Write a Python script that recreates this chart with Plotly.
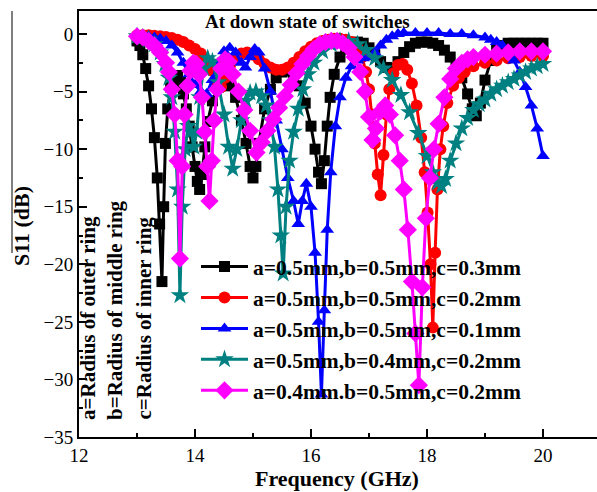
import plotly.graph_objects as go

# ---- data (frequency GHz, S11 dB) ----
black_pts = [(13.00,-0.6),(13.05,-1.0),(13.10,-1.8),(13.15,-3.0),(13.20,-4.5),(13.25,-6.5),(13.30,-9.0),(13.35,-12.5),(13.39,-16.5),(13.43,-21.5),(13.46,-15.0),(13.49,-9.5),(13.53,-6.5),(13.58,-4.6),(13.64,-3.7),(13.70,-3.6),(13.75,-4.2),(13.80,-5.2),(13.85,-6.5),(13.90,-8.0),(13.95,-9.8),(14.00,-11.5),(14.04,-12.8),(14.08,-13.5),(14.12,-12.2),(14.17,-9.8),(14.22,-7.6),(14.30,-5.8),(14.40,-4.6),(14.50,-4.2),(14.60,-4.5),(14.70,-5.5),(14.80,-7.5),(14.88,-9.5),(14.95,-11.5),(15.00,-12.5),(15.05,-11.5),(15.10,-9.5),(15.20,-6.5),(15.30,-4.8),(15.40,-3.8),(15.50,-3.3),(15.60,-3.2),(15.70,-3.6),(15.80,-4.5),(15.90,-6.0),(16.00,-8.0),(16.07,-10.0),(16.13,-12.0),(16.18,-13.0),(16.23,-11.0),(16.28,-8.0),(16.33,-5.5),(16.40,-3.5),(16.50,-2.0),(16.60,-1.3),(16.70,-0.9),(16.80,-0.7),(16.90,-0.8),(17.00,-1.2),(17.10,-1.8),(17.20,-2.4),(17.30,-2.9),(17.40,-3.0),(17.50,-2.4),(17.60,-1.6),(17.70,-1.1),(17.80,-0.8),(17.90,-0.7),(18.00,-0.7),(18.10,-0.8),(18.20,-1.0),(18.30,-1.4),(18.40,-2.0),(18.50,-2.8),(18.60,-3.8),(18.70,-5.2),(18.78,-6.5),(18.85,-7.1),(18.92,-6.0),(19.00,-4.0),(19.10,-2.3),(19.20,-1.4),(19.30,-1.0),(19.40,-0.8),(19.50,-0.8),(19.60,-0.8),(19.70,-0.8),(19.80,-0.8),(19.90,-0.8),(20.00,-0.8)]

red_pts = [(13.0,-0.1),(13.1,-0.1),(13.2,-0.1),(13.3,-0.15),(13.4,-0.2),(13.5,-0.25),(13.6,-0.35),(13.7,-0.5),(13.8,-0.7),(13.9,-1.0),(14.0,-1.3),(14.1,-1.7),(14.2,-2.3),(14.3,-3.2),(14.38,-4.2),(14.45,-4.6),(14.52,-3.8),(14.6,-2.8),(14.7,-2.1),(14.8,-1.7),(14.9,-1.6),(15.0,-1.8),(15.1,-2.2),(15.2,-2.6),(15.3,-2.9),(15.4,-3.1),(15.5,-3.1),(15.6,-2.9),(15.7,-2.5),(15.8,-2.0),(15.9,-1.5),(16.0,-1.1),(16.1,-0.8),(16.2,-0.6),(16.3,-0.5),(16.4,-0.4),(16.5,-0.4),(16.6,-0.5),(16.7,-0.7),(16.8,-1.2),(16.88,-2.0),(16.95,-3.3),(17.0,-4.8),(17.05,-7.0),(17.1,-9.5),(17.15,-12.2),(17.2,-14.0),(17.25,-10.5),(17.3,-7.0),(17.35,-4.8),(17.42,-3.4),(17.5,-2.7),(17.58,-2.6),(17.66,-3.1),(17.74,-4.3),(17.82,-6.2),(17.9,-9.0),(17.96,-12.0),(18.01,-15.5),(18.06,-20.0),(18.1,-25.5),(18.14,-19.0),(18.18,-13.5),(18.23,-10.0),(18.28,-8.0),(18.35,-6.0),(18.45,-4.5),(18.55,-3.8),(18.65,-3.3),(18.8,-2.8),(19.0,-2.5),(19.2,-2.3),(19.4,-2.1),(19.6,-2.0),(19.8,-1.9),(20.0,-1.9)]

blue_pts = [(13.0,-0.2),(13.1,-0.2),(13.2,-0.2),(13.3,-0.3),(13.4,-0.4),(13.5,-0.6),(13.6,-1.0),(13.7,-1.6),(13.8,-2.5),(13.9,-3.5),(14.0,-4.4),(14.1,-5.0),(14.2,-5.2),(14.3,-4.0),(14.4,-2.5),(14.5,-1.5),(14.6,-1.2),(14.7,-1.6),(14.8,-2.5),(14.87,-2.9),(14.95,-2.0),(15.03,-1.3),(15.1,-1.6),(15.2,-3.0),(15.3,-5.0),(15.4,-7.5),(15.5,-10.0),(15.6,-12.5),(15.7,-14.5),(15.78,-16.5),(15.85,-14.5),(15.92,-13.0),(16.0,-15.0),(16.07,-19.0),(16.13,-25.0),(16.18,-31.3),(16.23,-24.0),(16.28,-17.0),(16.34,-12.0),(16.42,-8.0),(16.5,-5.5),(16.6,-3.8),(16.7,-2.8),(16.8,-2.3),(16.9,-2.1),(17.0,-2.0),(17.1,-1.6),(17.2,-1.0),(17.3,-0.5),(17.4,-0.2),(17.5,0.0),(17.6,0.1),(17.8,0.1),(18.0,0.1),(18.2,0.1),(18.4,0.0),(18.6,0.0),(18.8,-0.1),(19.0,-0.3),(19.1,-0.5),(19.2,-0.7),(19.3,-1.0),(19.4,-1.5),(19.5,-2.3),(19.6,-3.3),(19.7,-4.6),(19.8,-6.2),(19.9,-8.2),(20.0,-10.6)]

teal_pts = [(13.0,-0.2),(13.1,-0.3),(13.2,-0.5),(13.3,-0.9),(13.4,-1.6),(13.48,-2.6),(13.55,-3.8),(13.6,-5.5),(13.65,-8.5),(13.7,-13.5),(13.74,-22.7),(13.78,-15.0),(13.83,-10.0),(13.88,-8.0),(13.93,-8.5),(13.98,-9.8),(14.03,-8.5),(14.08,-5.5),(14.15,-3.0),(14.22,-2.1),(14.3,-2.4),(14.4,-4.2),(14.5,-7.0),(14.58,-9.8),(14.65,-11.7),(14.72,-10.0),(14.8,-7.5),(14.88,-5.8),(14.95,-5.1),(15.05,-5.0),(15.15,-5.4),(15.23,-6.2),(15.3,-7.5),(15.37,-9.8),(15.43,-13.5),(15.48,-17.5),(15.52,-20.8),(15.57,-15.0),(15.63,-11.0),(15.7,-8.5),(15.78,-6.5),(15.86,-4.8),(15.95,-3.5),(16.05,-2.5),(16.2,-1.5),(16.35,-0.9),(16.5,-0.6),(16.65,-0.6),(16.8,-0.9),(16.95,-1.4),(17.1,-2.1),(17.25,-3.0),(17.4,-4.0),(17.55,-5.3),(17.7,-6.8),(17.85,-8.6),(18.0,-10.6),(18.1,-12.0),(18.18,-12.9),(18.25,-13.2),(18.32,-12.6),(18.4,-11.0),(18.5,-9.5),(18.6,-8.2),(18.7,-7.3),(18.8,-6.6),(18.9,-6.1),(19.0,-5.7),(19.1,-5.2),(19.2,-4.8),(19.3,-4.5),(19.4,-4.2),(19.5,-3.9),(19.6,-3.6),(19.7,-3.3),(19.8,-3.0),(19.9,-2.8),(20.0,-2.6)]

magenta_pts = [(13.0,-0.2),(13.1,-0.3),(13.2,-0.6),(13.3,-1.0),(13.4,-1.6),(13.5,-2.5),(13.55,-3.3),(13.6,-4.8),(13.65,-7.0),(13.7,-11.0),(13.74,-19.5),(13.78,-11.5),(13.82,-7.0),(13.87,-4.5),(13.92,-3.2),(13.97,-2.5),(14.02,-2.6),(14.07,-3.5),(14.12,-5.5),(14.17,-8.5),(14.21,-11.5),(14.25,-14.5),(14.29,-11.0),(14.33,-7.5),(14.38,-4.8),(14.45,-3.0),(14.52,-2.2),(14.58,-2.4),(14.65,-3.5),(14.75,-5.0),(14.85,-6.6),(14.95,-8.4),(15.06,-10.3),(15.15,-9.4),(15.25,-8.4),(15.35,-7.4),(15.45,-6.4),(15.55,-5.4),(15.65,-4.4),(15.75,-3.4),(15.85,-2.6),(15.95,-1.9),(16.05,-1.3),(16.15,-0.9),(16.25,-0.7),(16.35,-0.6),(16.45,-0.6),(16.55,-0.8),(16.65,-1.2),(16.75,-2.0),(16.85,-3.3),(16.93,-5.0),(17.0,-7.2),(17.06,-9.2),(17.12,-8.2),(17.2,-6.7),(17.28,-6.2),(17.36,-7.0),(17.45,-8.8),(17.53,-11.0),(17.6,-13.5),(17.67,-17.0),(17.74,-21.5),(17.8,-26.0),(17.86,-30.5),(17.92,-22.0),(17.98,-16.0),(18.05,-12.5),(18.12,-10.0),(18.2,-7.8),(18.3,-5.5),(18.4,-3.9),(18.5,-3.0),(18.6,-2.5),(18.7,-2.2),(18.8,-2.0),(19.0,-1.8),(19.2,-1.7),(19.4,-1.6),(19.6,-1.5),(19.8,-1.5),(20.0,-1.5)]

series_names = ["a=0.5mm,b=0.5mm,c=0.3mm", "a=0.5mm,b=0.5mm,c=0.2mm", "a=0.5mm,b=0.5mm,c=0.1mm",
                "a=0.5mm,b=0.4mm,c=0.2mm", "a=0.4mm.b=0.5mm,c=0.2mm"]
series_pts = [black_pts, red_pts, blue_pts, teal_pts, magenta_pts]
series_colors = ["#000000", "#FF0000", "#0000FF", "#008080", "#FF00FF"]
series_symbols = ["square", "circle", "triangle-up", "star", "diamond"]
series_sizes = [11, 12, 12, 14, 14]

x_ticks = [12, 14, 16, 18, 20]
y_ticks = [0, -5, -10, -15, -20, -25, -30, -35]

SERIF = "Liberation Serif, Times New Roman, serif"

fig = go.Figure()
for name, pts, col, sym, sz in zip(series_names, series_pts, series_colors, series_symbols, series_sizes):
    xs = [p[0] for p in pts]
    ys = [p[1] for p in pts]
    fig.add_trace(go.Scatter(
        x=xs, y=ys, mode="lines+markers", name=name,
        line=dict(color=col, width=3),
        marker=dict(symbol=sym, size=sz, color=col, line=dict(width=0)),
    ))

W, H = 597, 492
L, R, T, B = 79, 0, 11, 55
pw, ph = W - L - R, H - T - B

def px_x(px):
    return (px - L) / pw

def px_y(py):
    return (H - B - py) / ph

fig.update_layout(
    width=W, height=H,
    margin=dict(l=L, r=R, t=T, b=B, pad=0),
    paper_bgcolor="white", plot_bgcolor="white",
    font=dict(family=SERIF, color="black", size=19),
    showlegend=True,
    legend=dict(
        x=px_x(196), y=px_y(246), xanchor="left", yanchor="top",
        bgcolor="rgba(0,0,0,0)", borderwidth=0,
        font=dict(family=SERIF, size=21.5, color="black", weight="bold"),
        itemwidth=47, tracegroupgap=0,
    ),
    xaxis=dict(
        range=[12, 12 + pw / 58.0], tickvals=x_ticks, ticks="inside", ticklen=8, tickwidth=1.5,
        tickcolor="black", showline=True, linecolor="black", linewidth=2, mirror=True,
        showgrid=False, zeroline=False, tickfont=dict(size=19),
        minor=dict(ticks="inside", ticklen=4, tickwidth=1.5, dtick=1, tickcolor="black", showgrid=False),
    ),
    yaxis=dict(
        range=[-35, 2], tickvals=y_ticks, ticks="inside", ticklen=8, tickwidth=1.5,
        tickcolor="black", showline=True, linecolor="black", linewidth=2,
        showgrid=False, zeroline=False, tickfont=dict(size=19),
        minor=dict(ticks="inside", ticklen=4, tickwidth=1.5, dtick=2.5, tickcolor="black", showgrid=False),
    ),
)

ann = []
ann.append(dict(text="<b>At down state of switches</b>", x=px_x(307), y=px_y(21),
                xref="paper", yref="paper", showarrow=False, xanchor="center", yanchor="middle",
                font=dict(family=SERIF, size=19, color="black")))
ann.append(dict(text="<b>Frequency (GHz)</b>", x=px_x(337), y=px_y(478),
                xref="paper", yref="paper", showarrow=False, xanchor="center", yanchor="middle",
                font=dict(family=SERIF, size=22, color="black")))
ann.append(dict(text="<b>S11 (dB)</b>", x=px_x(21), y=px_y(226), textangle=-90,
                xref="paper", yref="paper", showarrow=False, xanchor="center", yanchor="middle",
                font=dict(family=SERIF, size=22, color="black")))
for txt, cx in [("a=Radius of outer ring", 88), ("b=Radius of middle ring", 115), ("c=Radius of inner ring", 143)]:
    ann.append(dict(text="<b>" + txt + "</b>", x=px_x(cx), y=px_y(422), textangle=-90,
                    xref="paper", yref="paper", showarrow=False, xanchor="center", yanchor="bottom",
                    font=dict(family=SERIF, size=21, color="black")))
fig.update_layout(annotations=ann)

fig.add_shape(type="line", xref="paper", yref="paper", x0=px_x(12), x1=px_x(12),
              y0=px_y(11), y1=px_y(253), line=dict(color="black", width=1))

fig.write_html("out.html")
